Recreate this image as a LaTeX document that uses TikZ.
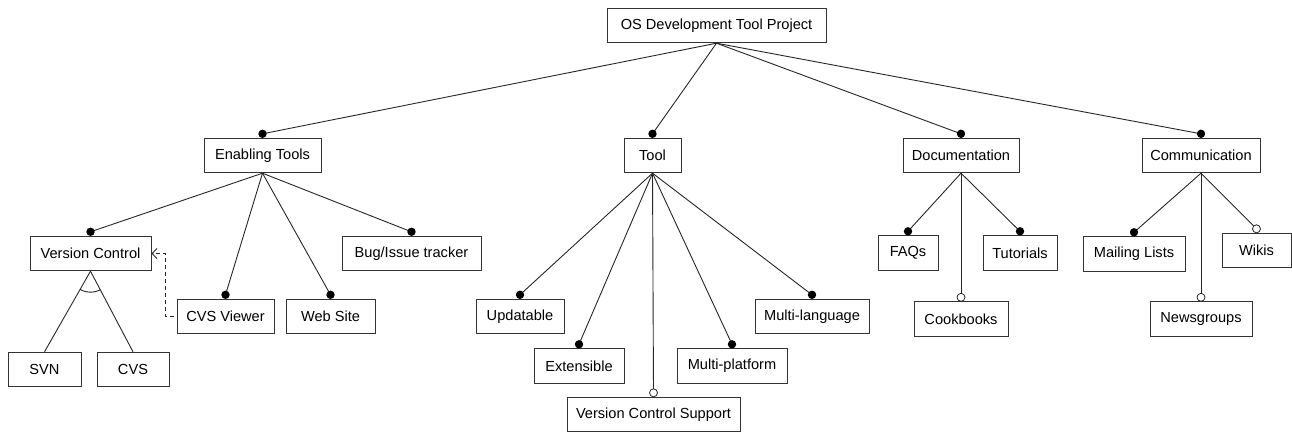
\documentclass[tikz,border=0pt]{standalone}
\usepackage{fontspec}
\setmainfont{Liberation Sans}
\usetikzlibrary{calc,arrows.meta}
\begin{document}
\begin{tikzpicture}[x=1pt,y=-1pt,
  line width=0.9pt,
  box/.style={draw=black!80, minimum height=34.5pt, inner sep=0pt,
    font=\fontsize{14.6}{17}\selectfont},
  conn/.style={draw=black!85, line width=0.9pt},
  mand/.style={fill=black},
  opt/.style={draw=black!85, fill=white, line width=0.8pt}]
\useasboundingbox (0,0) rectangle (1292,432);
% nodes
\node[box, minimum width=219pt] (root) at (716.5,25.5) {OS Development Tool Project};
\node[box, minimum width=117pt] (et) at (262.5,155.5) {Enabling Tools};
\node[box, minimum width=57pt] (tool) at (652.5,155.5) {Tool};
\node[box, minimum width=116pt] (doc) at (961,155.5) {Documentation};
\node[box, minimum width=118pt] (comm) at (1201,155.5) {Communication};
\node[box, minimum width=121pt] (vc) at (90.5,253.5) {Version Control};
\node[box, minimum width=73pt] (svn) at (44.5,369.5) {SVN};
\node[box, minimum width=72pt] (cvs) at (133,369.5) {CVS};
\node[box, minimum width=97pt] (cvsv) at (225.5,316.5) {CVS Viewer};
\node[box, minimum width=89pt] (web) at (330.5,316.5) {Web Site};
\node[box, minimum width=139pt] (bug) at (411.5,253.5) {Bug/Issue tracker};
\node[box, minimum width=88pt] (upd) at (520,316.5) {Updatable};
\node[box, minimum width=90pt] (ext) at (579,366) {Extensible};
\node[box, minimum width=173pt] (vcs) at (653.5,414.5) {Version Control Support};
\node[box, minimum width=110pt] (mp) at (732,366) {Multi-platform};
\node[box, minimum width=114pt] (ml) at (812,316.5) {Multi-language};
\node[box, minimum width=60pt] (faq) at (908,253) {FAQs};
\node[box, minimum width=74pt] (tut) at (1020,253) {Tutorials};
\node[box, minimum width=94pt] (cook) at (961,319) {Cookbooks};
\node[box, minimum width=102pt] (mail) at (1134,254) {Mailing Lists};
\node[box, minimum width=69pt] (wiki) at (1256.5,250.5) {Wikis};
\node[box, minimum width=102pt] (news) at (1201,319) {Newsgroups};
% connector end points (dots just above each box)
\foreach \n in {et,tool,doc,comm,cvsv,web,bug,upd,ext,vcs,mp,ml,faq,tut,cook,mail,wiki,news,vc}
  \coordinate (\n-d) at ($(\n.north)+(0,-4)$);
% mandatory edges
\foreach \p/\c in {root/et,root/tool,root/doc,root/comm,
                   et/vc,et/cvsv,et/web,et/bug,
                   tool/upd,tool/ext,tool/mp,tool/ml,
                   doc/faq,doc/tut,comm/mail}
  {\draw[conn] (\p.south) -- (\c-d);
   \fill[mand] (\c-d) circle[radius=4.2pt];}
% optional edges
\foreach \p/\c in {tool/vcs,doc/cook,comm/wiki,comm/news}
  {\draw[conn] (\p.south) -- (\c-d);
   \draw[opt] (\c-d) circle[radius=4pt];}
% alternative group under Version Control
\draw[conn] (vc.south) -- (svn.north);
\draw[conn] (vc.south) -- (cvs.north);
\begin{scope}
  \clip (vc.south) -- (svn.north) -- (cvs.north) -- cycle;
  \draw[conn] (vc.south) circle[radius=21pt];
\end{scope}
% dependency (dashed)
\draw[conn, dashed, dash pattern=on 4pt off 3pt, shorten <=3pt,
      -{Straight Barb[length=5pt,width=10pt]}]
  (cvsv.west) -- ++(-11,0) |- (vc.east);
\end{tikzpicture}
\end{document}
